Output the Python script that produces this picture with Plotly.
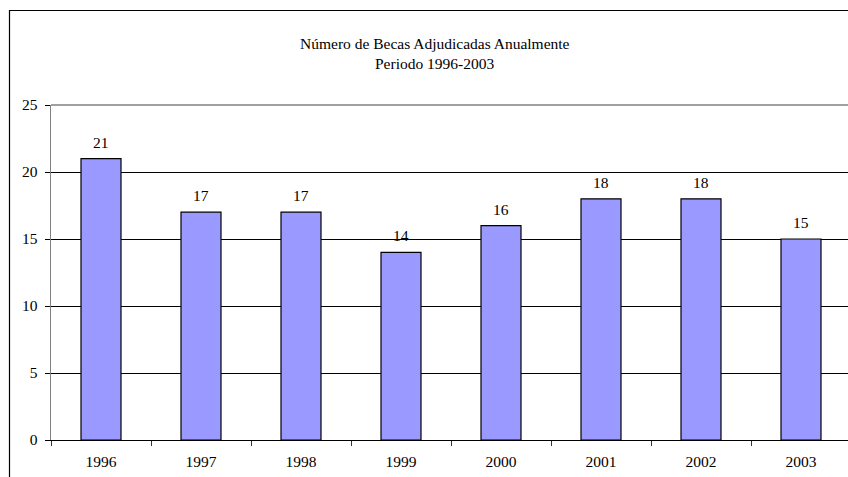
import plotly.graph_objects as go

years = ["1996", "1997", "1998", "1999", "2000", "2001", "2002", "2003"]
becas = [21, 17, 17, 14, 16, 18, 18, 15]
title_lines = ["Número de Becas Adjudicadas Anualmente", "Periodo 1996-2003"]
y_ticks = [0, 5, 10, 15, 20, 25]

W, H = 848, 477
L, T, B, R = 51, 105, 37, 0
pw, ph = W - L - R, H - T - B

def px_x(p):
    return (p - L) / pw

def px_y(p):
    return (H - B - p) / ph

FONT = "Liberation Serif, Times New Roman, serif"
FS = 15.5

fig = go.Figure()
fig.add_trace(go.Bar(
    x=years, y=becas,
    marker=dict(color="#9999FF", line=dict(color="black", width=1.2)),
    width=0.4,
    hoverinfo="skip",
))

annotations = []
for i, v in enumerate(becas):
    annotations.append(dict(x=i, y=v, xref="x", yref="y", text=str(v), showarrow=False,
                            yshift=16.5, font=dict(family=FONT, size=FS, color="black")))
annotations.append(dict(x=px_x(435), y=px_y(33), xref="paper", yref="paper",
                        text=title_lines[0], showarrow=False,
                        font=dict(family=FONT, size=FS, color="black")))
annotations.append(dict(x=px_x(435), y=px_y(53), xref="paper", yref="paper",
                        text=title_lines[1], showarrow=False,
                        font=dict(family=FONT, size=FS, color="black")))

shapes = [
    dict(type="rect", xref="paper", yref="paper",
         x0=px_x(9.5), x1=px_x(870), y0=px_y(490), y1=px_y(10.5),
         line=dict(color="black", width=1.2), layer="above"),
    dict(type="line", xref="paper", yref="paper", x0=0, x1=1.05, y0=1, y1=1,
         line=dict(color="#808080", width=1.5), layer="above"),
]

fig.update_layout(
    width=W, height=H,
    margin=dict(l=L, r=R, t=T, b=B, pad=0),
    paper_bgcolor="white", plot_bgcolor="white",
    showlegend=False,
    bargap=0.6,
    annotations=annotations,
    shapes=shapes,
    font=dict(family=FONT, size=FS, color="black"),
)
fig.update_xaxes(
    type="category", range=[-0.5, -0.5 + pw / 100.0],
    showline=True, linecolor="black", linewidth=1.2,
    ticks="outside", tickson="boundaries", ticklen=5, tickcolor="#333333", tickwidth=1,
    showgrid=False, ticklabelstandoff=7,
    tickfont=dict(family=FONT, size=FS, color="black"),
)
fig.update_yaxes(
    range=[0, 25], tickvals=y_ticks,
    showline=True, linecolor="#808080", linewidth=1.5,
    ticks="outside", ticklen=5, tickcolor="black", tickwidth=1,
    showgrid=True, gridcolor="black", gridwidth=1, zeroline=False,
    ticklabelstandoff=4,
    tickfont=dict(family=FONT, size=FS, color="black"),
)

fig.write_html(
    "out.html",
    config={"displayModeBar": False, "staticPlot": True},
    post_script="document.body.style.margin='0';document.body.style.overflow='hidden';",
)
